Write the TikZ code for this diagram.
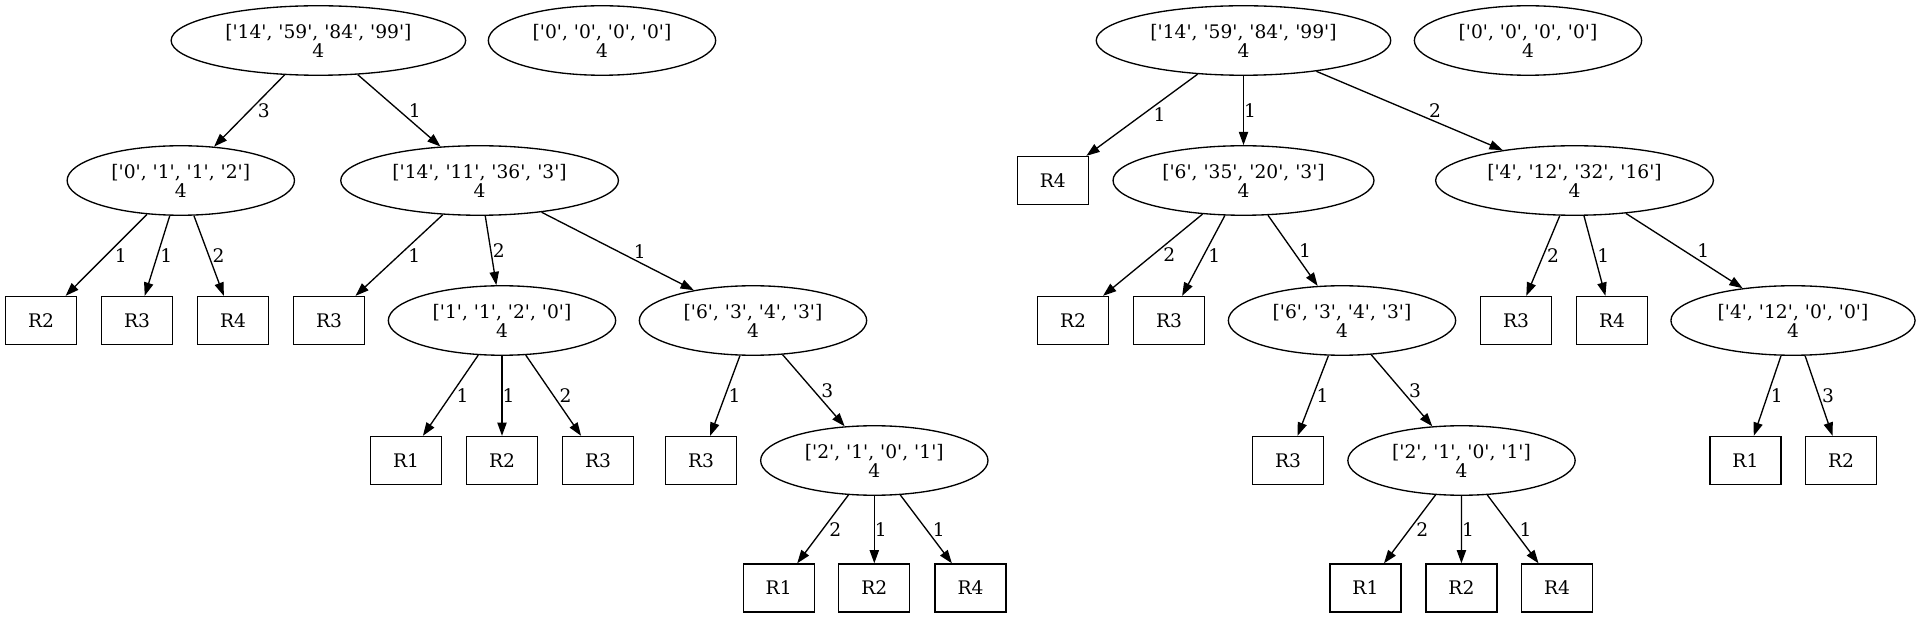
\documentclass[tikz,border=0pt]{standalone}
\usepackage{fontspec}
\newfontfamily\gv{DejaVu Serif}
\usetikzlibrary{shapes.geometric,arrows.meta}
\tikzset{
  every node/.style={font=\gv\fontsize{18.67}{19}\selectfont},
  ell/.style={ellipse, draw, line width=1.33pt, inner xsep=11pt, inner ysep=0pt, minimum height=69.5pt, align=center},
  leaf/.style={rectangle, draw, line width=1.33pt, minimum width=71pt, minimum height=48pt, inner sep=0pt},
  arr/.style={line width=1.33pt, -{Triangle[length=13.3pt,width=9.3pt]}},
  lbl/.style={anchor=west, inner sep=0pt}
}
\newcommand\edg[4]{\draw[arr] (#1) -- (#2) node[lbl, pos=0.5, xshift=#4pt] {#3};}
\begin{document}
\begin{tikzpicture}[x=1pt,y=-1pt]
\useasboundingbox (0,0) rectangle (1920,617);
% ---------- left tree ----------
\node[ell] (A) at (318.4,40.5) {['14', '59', '84', '99']\\4};
\node[ell] (B) at (602,40.5) {['0', '0', '0', '0']\\4};
\node[ell] (C) at (180.8,180.5) {['0', '1', '1', '2']\\4};
\node[ell] (D) at (479.6,180.5) {['14', '11', '36', '3']\\4};
\node[leaf] (C1) at (41,320.5) {R2};
\node[leaf] (C2) at (137,320.5) {R3};
\node[leaf] (C3) at (233,320.5) {R4};
\node[leaf] (D1) at (329,320.5) {R3};
\node[ell] (E) at (502,320.5) {['1', '1', '2', '0']\\4};
\node[ell] (F) at (753,320.5) {['6', '3', '4', '3']\\4};
\node[leaf] (E1) at (406,460.5) {R1};
\node[leaf] (E2) at (502,460.5) {R2};
\node[leaf] (E3) at (598,460.5) {R3};
\node[leaf] (F1) at (701,460.5) {R3};
\node[ell] (G) at (874.3,460.5) {['2', '1', '0', '1']\\4};
\node[leaf] (G1) at (778.7,588) {R1};
\node[leaf] (G2) at (874.3,588) {R2};
\node[leaf] (G3) at (970.5,588) {R4};
% ---------- right tree ----------
\node[ell] (H) at (1243.5,40.5) {['14', '59', '84', '99']\\4};
\node[ell] (I) at (1528,40.5) {['0', '0', '0', '0']\\4};
\node[leaf] (H1) at (1052.8,180.5) {R4};
\node[ell] (J) at (1243.5,180.5) {['6', '35', '20', '3']\\4};
\node[ell] (K) at (1574.5,180.5) {['4', '12', '32', '16']\\4};
\node[leaf] (J1) at (1073,320.5) {R2};
\node[leaf] (J2) at (1169,320.5) {R3};
\node[ell] (L) at (1342,320.5) {['6', '3', '4', '3']\\4};
\node[leaf] (K1) at (1516,320.5) {R3};
\node[leaf] (K2) at (1612,320.5) {R4};
\node[ell] (M) at (1793,320.5) {['4', '12', '0', '0']\\4};
\node[leaf] (L1) at (1288,460.5) {R3};
\node[ell] (N) at (1461.5,460.5) {['2', '1', '0', '1']\\4};
\node[leaf] (M1) at (1745.4,460.5) {R1};
\node[leaf] (M2) at (1841,460.5) {R2};
\node[leaf] (N1) at (1365.4,588) {R1};
\node[leaf] (N2) at (1461.4,588) {R2};
\node[leaf] (N3) at (1557,588) {R4};
% ---------- edges left ----------
\edg{A}{C}{3}{7.8}
\edg{A}{D}{1}{9.2}
\edg{C}{C1}{1}{8}
\edg{C}{C2}{1}{2.5}
\edg{C}{C3}{2}{3}
\edg{D}{D1}{1}{8.6}
\edg{D}{E}{2}{1.3}
\edg{D}{F}{1}{15.6}
\edg{E}{E1}{1}{5.5}
\edg{E}{E2}{1}{0}
\edg{E}{E3}{2}{5.5}
\edg{F}{F1}{1}{3}
\edg{F}{G}{3}{7}
\edg{G}{G1}{2}{6}
\edg{G}{G2}{1}{0}
\edg{G}{G3}{1}{6}
% ---------- edges right ----------
\edg{H}{H1}{1}{10.9}
\edg{H}{J}{1}{0}
\edg{H}{K}{2}{19}
\edg{J}{J1}{2}{9.8}
\edg{J}{J2}{1}{4.2}
\edg{J}{L}{1}{5.6}
\edg{K}{K1}{2}{3.3}
\edg{K}{K2}{1}{2.1}
\edg{K}{M}{1}{12.5}
\edg{L}{L1}{1}{3}
\edg{L}{N}{3}{6.8}
\edg{M}{M1}{1}{2.7}
\edg{M}{M2}{3}{2.7}
\edg{N}{N1}{2}{6}
\edg{N}{N2}{1}{0}
\edg{N}{N3}{1}{6}
\end{tikzpicture}
\end{document}
